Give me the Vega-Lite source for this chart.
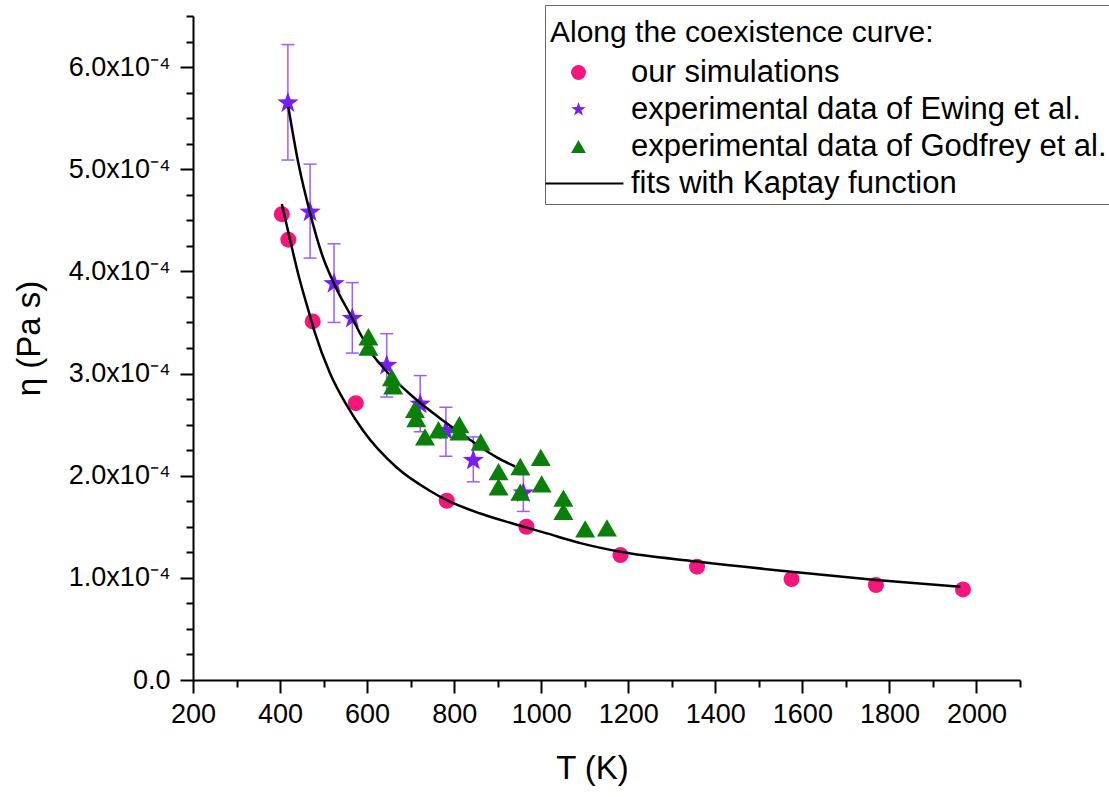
{
  "$schema": "https://vega.github.io/schema/vega-lite/v6.json",
  "width": 827,
  "height": 664,
  "autosize": {"type": "none"},
  "padding": {"left": 193, "top": 16, "right": 89, "bottom": 117},
  "background": "white",
  "config": {
    "view": {"stroke": null},
    "axis": {
      "domainColor": "black", "domainWidth": 2, "tickColor": "black", "tickWidth": 2,
      "labelFont": "Liberation Sans", "labelFontSize": 27, "labelColor": "black",
      "titleFont": "Liberation Sans", "titleFontSize": 33, "titleFontWeight": "normal", "titleColor": "black",
      "grid": false, "labelOverlap": false, "labelBound": false, "labelFlush": false
    },
    "legend": {
      "titleFont": "Liberation Sans", "titleFontSize": 30, "titleFontWeight": "normal", "titleColor": "black",
      "titleBaseline": "line-top", "titleLineHeight": 46,
      "labelFont": "Liberation Sans", "labelFontSize": 31, "labelColor": "black",
      "strokeColor": "#666666", "fillColor": "white", "padding": 5, "cornerRadius": 0,
      "symbolSize": 220, "symbolOffset": 13, "labelOffset": 37, "rowPadding": 5, "titlePadding": 17,
      "symbolStrokeWidth": 0, "symbolOpacity": 1, "labelLimit": 700, "titleLimit": 700
    }
  },
  "datasets": {
    "sim": [
      {"series": "our simulations", "T": 404, "eta": 0.000456},
      {"series": "our simulations", "T": 419, "eta": 0.000431},
      {"series": "our simulations", "T": 475, "eta": 0.000351},
      {"series": "our simulations", "T": 574, "eta": 0.000271},
      {"series": "our simulations", "T": 783, "eta": 0.0001755},
      {"series": "our simulations", "T": 966, "eta": 0.000150},
      {"series": "our simulations", "T": 1182, "eta": 0.0001223},
      {"series": "our simulations", "T": 1358, "eta": 0.0001109},
      {"series": "our simulations", "T": 1575, "eta": 0.0000988},
      {"series": "our simulations", "T": 1769, "eta": 0.0000930},
      {"series": "our simulations", "T": 1969, "eta": 0.0000887}
    ],
    "ewing": [
      {"series": "experimental data of Ewing et al.", "T": 418, "eta": 0.000565, "lo": 0.000509, "hi": 0.000622},
      {"series": "experimental data of Ewing et al.", "T": 469, "eta": 0.000458, "lo": 0.000413, "hi": 0.000505},
      {"series": "experimental data of Ewing et al.", "T": 524, "eta": 0.000388, "lo": 0.000350, "hi": 0.000427},
      {"series": "experimental data of Ewing et al.", "T": 566, "eta": 0.000354, "lo": 0.000320, "hi": 0.000389},
      {"series": "experimental data of Ewing et al.", "T": 645, "eta": 0.000308, "lo": 0.000277, "hi": 0.000339},
      {"series": "experimental data of Ewing et al.", "T": 722, "eta": 0.000270, "lo": 0.000243, "hi": 0.000298},
      {"series": "experimental data of Ewing et al.", "T": 781, "eta": 0.000244, "lo": 0.000219, "hi": 0.000267},
      {"series": "experimental data of Ewing et al.", "T": 844, "eta": 0.000215, "lo": 0.000194, "hi": 0.000238},
      {"series": "experimental data of Ewing et al.", "T": 959, "eta": 0.000183, "lo": 0.000165, "hi": 0.000201}
    ],
    "godfrey": [
      {"series": "experimental data of Godfrey et al.", "T": 603, "eta": 0.000336},
      {"series": "experimental data of Godfrey et al.", "T": 603, "eta": 0.000326},
      {"series": "experimental data of Godfrey et al.", "T": 657, "eta": 0.000296},
      {"series": "experimental data of Godfrey et al.", "T": 660, "eta": 0.000288},
      {"series": "experimental data of Godfrey et al.", "T": 710, "eta": 0.000265},
      {"series": "experimental data of Godfrey et al.", "T": 713, "eta": 0.000256},
      {"series": "experimental data of Godfrey et al.", "T": 733, "eta": 0.000238},
      {"series": "experimental data of Godfrey et al.", "T": 764, "eta": 0.000245},
      {"series": "experimental data of Godfrey et al.", "T": 812, "eta": 0.000250},
      {"series": "experimental data of Godfrey et al.", "T": 812, "eta": 0.000243},
      {"series": "experimental data of Godfrey et al.", "T": 861, "eta": 0.000233},
      {"series": "experimental data of Godfrey et al.", "T": 902, "eta": 0.000204},
      {"series": "experimental data of Godfrey et al.", "T": 902, "eta": 0.000189},
      {"series": "experimental data of Godfrey et al.", "T": 952, "eta": 0.000209},
      {"series": "experimental data of Godfrey et al.", "T": 952, "eta": 0.000184},
      {"series": "experimental data of Godfrey et al.", "T": 999, "eta": 0.000218},
      {"series": "experimental data of Godfrey et al.", "T": 1001, "eta": 0.000192},
      {"series": "experimental data of Godfrey et al.", "T": 1051, "eta": 0.000178},
      {"series": "experimental data of Godfrey et al.", "T": 1051, "eta": 0.000165},
      {"series": "experimental data of Godfrey et al.", "T": 1101, "eta": 0.000148},
      {"series": "experimental data of Godfrey et al.", "T": 1151, "eta": 0.000149}
    ],
    "fits": [
      {"curve": "ewing", "T": 419, "eta": 0.000561},
      {"curve": "ewing", "T": 442, "eta": 0.000506},
      {"curve": "ewing", "T": 469, "eta": 0.000457},
      {"curve": "ewing", "T": 496, "eta": 0.000417},
      {"curve": "ewing", "T": 524, "eta": 0.000388},
      {"curve": "ewing", "T": 566, "eta": 0.000354},
      {"curve": "ewing", "T": 588, "eta": 0.000336},
      {"curve": "ewing", "T": 607, "eta": 0.000322},
      {"curve": "ewing", "T": 645, "eta": 0.000302},
      {"curve": "ewing", "T": 706, "eta": 0.000277},
      {"curve": "ewing", "T": 768, "eta": 0.000256},
      {"curve": "ewing", "T": 837, "eta": 0.000235},
      {"curve": "ewing", "T": 898, "eta": 0.000218},
      {"curve": "ewing", "T": 940, "eta": 0.000209},
      {"curve": "sim", "T": 404, "eta": 0.000466},
      {"curve": "sim", "T": 423, "eta": 0.000431},
      {"curve": "sim", "T": 442, "eta": 0.000397},
      {"curve": "sim", "T": 465, "eta": 0.000362},
      {"curve": "sim", "T": 480, "eta": 0.000340},
      {"curve": "sim", "T": 515, "eta": 0.000300},
      {"curve": "sim", "T": 553, "eta": 0.000269},
      {"curve": "sim", "T": 591, "eta": 0.000244},
      {"curve": "sim", "T": 668, "eta": 0.000208},
      {"curve": "sim", "T": 745, "eta": 0.000185},
      {"curve": "sim", "T": 783, "eta": 0.000176},
      {"curve": "sim", "T": 860, "eta": 0.000163},
      {"curve": "sim", "T": 936, "eta": 0.000153},
      {"curve": "sim", "T": 1013, "eta": 0.0001435},
      {"curve": "sim", "T": 1090, "eta": 0.000134},
      {"curve": "sim", "T": 1182, "eta": 0.0001255},
      {"curve": "sim", "T": 1358, "eta": 0.000116},
      {"curve": "sim", "T": 1575, "eta": 0.000106},
      {"curve": "sim", "T": 1769, "eta": 0.000098},
      {"curve": "sim", "T": 1963, "eta": 0.0000913}
    ]
  },
  "encoding": {
    "x": {
      "field": "T", "type": "quantitative",
      "scale": {"domain": [200, 2100], "nice": false, "zero": false},
      "axis": {
        "title": "T (K)", "titlePadding": 25, "labelPadding": 8, "titleX": 399,
        "values": [200, 300, 400, 500, 600, 700, 800, 900, 1000, 1100, 1200, 1300, 1400, 1500, 1600, 1700, 1800, 1900, 2000, 2100],
        "labelExpr": "datum.value % 200 == 0 ? format(datum.value, 'd') : ''",
        "tickSize": {"condition": {"test": "datum.value % 200 == 0", "value": 13}, "value": 7}
      }
    },
    "y": {
      "field": "eta", "type": "quantitative",
      "scale": {"domain": [0, 0.00065], "nice": false, "zero": false},
      "axis": {
        "title": "η (Pa s)", "titlePadding": 22, "labelPadding": 10, "titleY": 322,
        "values": [0, 0.000025, 0.00005, 0.000075, 0.0001, 0.000125, 0.00015, 0.000175, 0.0002, 0.000225, 0.00025, 0.000275, 0.0003, 0.000325, 0.00035, 0.000375, 0.0004, 0.000425, 0.00045, 0.000475, 0.0005, 0.000525, 0.00055, 0.000575, 0.0006, 0.000625, 0.00065],
        "labelExpr": "abs(datum.value*10000 - round(datum.value*10000)) > 0.001 ? '' : (datum.value == 0 ? '0.0' : format(datum.value*10000, '.1f') + 'x10⁻⁴')",
        "tickSize": {"condition": {"test": "abs(datum.value*10000 - round(datum.value*10000)) > 0.001", "value": 7}, "value": 13}
      }
    }
  },
  "layer": [
    {
      "data": {"name": "sim"},
      "mark": {"type": "point", "filled": true, "opacity": 1, "size": 256, "strokeWidth": 0},
      "encoding": {
        "color": {"field": "series", "type": "nominal",
          "scale": {"domain": ["our simulations", "experimental data of Ewing et al.", "experimental data of Godfrey et al.", "fits with Kaptay function"], "range": ["#f5157d", "#7a1cf7", "#0a7f0a", "#000000"]},
          "legend": {"title": "Along the coexistence curve:", "orient": "none", "legendX": 352, "legendY": -11}},
        "shape": {"field": "series", "type": "nominal",
          "scale": {"domain": ["our simulations", "experimental data of Ewing et al.", "experimental data of Godfrey et al.", "fits with Kaptay function"], "range": ["circle", "M0,-1L0.235,-0.324L0.951,-0.309L0.38,0.124L0.588,0.809L0,0.4L-0.588,0.809L-0.38,0.124L-0.951,-0.309L-0.235,-0.324Z", "triangle-up", "M-4.45,-0.12L6.06,-0.12L6.06,0.12L-4.45,0.12Z"]},
          "legend": {"title": "Along the coexistence curve:", "orient": "none", "legendX": 352, "legendY": -11}}
      }
    },
    {
      "data": {"name": "ewing"},
      "mark": {"type": "rule", "color": "#9c5cff", "strokeWidth": 1.5},
      "encoding": {
        "y": {"field": "lo", "type": "quantitative"},
        "y2": {"field": "hi"}
      }
    },
    {
      "data": {"name": "ewing"},
      "mark": {"type": "tick", "orient": "horizontal", "color": "#9c5cff", "thickness": 1.5, "size": 13, "opacity": 1},
      "encoding": {"y": {"field": "lo", "type": "quantitative"}}
    },
    {
      "data": {"name": "ewing"},
      "mark": {"type": "tick", "orient": "horizontal", "color": "#9c5cff", "thickness": 1.5, "size": 13, "opacity": 1},
      "encoding": {"y": {"field": "hi", "type": "quantitative"}}
    },
    {
      "data": {"name": "ewing"},
      "mark": {"type": "point", "filled": true, "opacity": 1, "size": 500, "strokeWidth": 0},
      "encoding": {
        "color": {"field": "series", "type": "nominal"},
        "shape": {"field": "series", "type": "nominal"}
      }
    },
    {
      "data": {"name": "fits"},
      "mark": {"type": "line", "color": "black", "strokeWidth": 2.5, "interpolate": "monotone"},
      "encoding": {"detail": {"field": "curve"}}
    },
    {
      "data": {"name": "godfrey"},
      "mark": {"type": "point", "filled": true, "opacity": 1, "size": 400, "strokeWidth": 0},
      "encoding": {
        "color": {"field": "series", "type": "nominal"},
        "shape": {"field": "series", "type": "nominal"}
      }
    }
  ]
}
